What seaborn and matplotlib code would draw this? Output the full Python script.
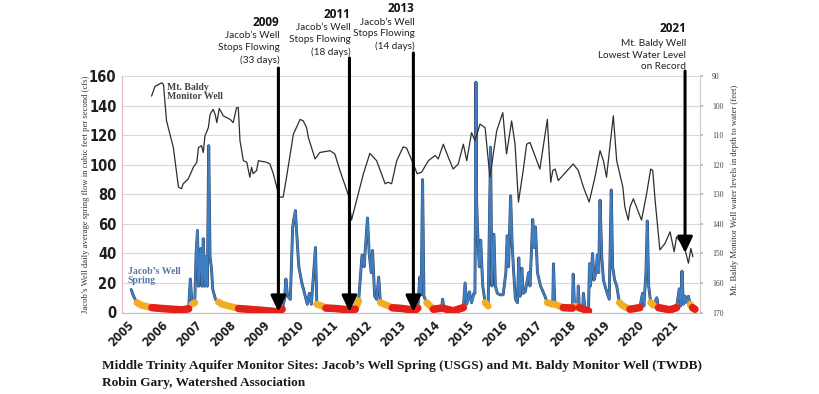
import numpy as np
import pandas as pd
import seaborn as sns
import matplotlib.pyplot as plt
from matplotlib import transforms
from matplotlib import patheffects as pe

# ---------------- data ----------------
baldy_year = [2005.87, 2005.97, 2006.17, 2006.22, 2006.31, 2006.51, 2006.66, 2006.75, 2006.80, 2006.95,
              2007.10, 2007.20, 2007.25, 2007.34, 2007.39, 2007.44, 2007.54, 2007.59, 2007.68, 2007.74,
              2007.79, 2007.86, 2007.98, 2008.18, 2008.27, 2008.37, 2008.42, 2008.47, 2008.57, 2008.67,
              2008.76, 2008.81, 2008.86, 2008.96, 2009.01, 2009.25, 2009.35, 2009.45, 2009.55, 2009.63,
              2009.74, 2009.84, 2010.04, 2010.24, 2010.33, 2010.43, 2010.48, 2010.68, 2010.82, 2011.12,
              2011.26, 2011.41, 2011.66, 2011.75, 2011.90, 2012.10, 2012.29, 2012.49, 2012.74, 2012.83,
              2012.93, 2013.08, 2013.27, 2013.37, 2013.57, 2013.68, 2013.81, 2014.01, 2014.21, 2014.30,
              2014.45, 2014.60, 2014.74, 2014.89, 2015.04, 2015.14, 2015.28, 2015.38, 2015.53, 2015.68,
              2015.82, 2016.02, 2016.20, 2016.31, 2016.46, 2016.56, 2016.66, 2016.80, 2016.90, 2017.00,
              2017.29, 2017.51, 2017.61, 2017.67, 2017.74, 2017.83, 2018.27, 2018.42, 2018.57, 2018.74,
              2018.91, 2019.06, 2019.16, 2019.25, 2019.45, 2019.55, 2019.73, 2019.79, 2019.89, 2019.94,
              2020.04, 2020.28, 2020.43, 2020.55, 2020.61, 2020.68, 2020.82, 2020.97, 2021.12, 2021.24,
              2021.31, 2021.46, 2021.56, 2021.66, 2021.73, 2021.79]
baldy_depth = [96.7, 93.4, 92.2, 92.8, 105.1, 114.1, 127.5, 128.1, 126.4, 124.7,
               120.8, 119.1, 114.1, 113.5, 115.8, 110.2, 107.4, 102.9, 101.2, 102.9,
               105.7, 100.9, 103.4, 104.6, 105.7, 100.6, 100.6, 111.8, 118.6, 119.1,
               124.2, 120.8, 123.0, 121.9, 118.6, 119.1, 119.7, 123.0, 127.5, 130.9,
               130.9, 124.2, 109.6, 104.6, 105.1, 107.4, 110.7, 118.0, 115.8, 115.2,
               116.3, 121.9, 130.3, 138.7, 132.0, 123.0, 116.1, 118.6, 126.4, 125.9,
               126.4, 118.6, 113.9, 114.3, 119.7, 123.0, 122.5, 118.6, 116.8, 118.0,
               113.0, 117.5, 121.4, 119.7, 113.0, 118.6, 109.1, 111.8, 106.2, 107.4,
               124.2, 108.5, 102.3, 116.3, 105.1, 113.0, 132.6, 121.9, 113.0, 112.4,
               121.4, 104.6, 125.9, 121.9, 121.4, 125.3, 119.7, 121.9, 127.5, 132.6,
               124.2, 115.2, 118.6, 124.2, 103.4, 118.6, 127.5, 134.3, 138.7, 134.3,
               131.5, 138.7, 129.8, 121.4, 121.9, 132.0, 148.8, 146.6, 142.7, 149.4,
               144.4, 146.6, 148.8, 153.3, 148.3, 151.1]

spring_year = [2005.27, 2005.34, 2005.44, 2005.59, 2005.88, 2006.18, 2006.47, 2006.76, 2006.96, 2007.01,
               2007.06, 2007.14, 2007.18, 2007.22, 2007.25, 2007.31, 2007.35, 2007.39, 2007.43, 2007.47,
               2007.51, 2007.55, 2007.59, 2007.63, 2007.67, 2007.75, 2007.84, 2007.94, 2008.14, 2008.43,
               2008.92, 2009.31, 2009.61, 2009.71, 2009.78, 2009.82, 2009.87, 2009.95, 2010.02, 2010.06,
               2010.10, 2010.14, 2010.20, 2010.29, 2010.39, 2010.45, 2010.51, 2010.57, 2010.69, 2010.73,
               2010.88, 2011.00, 2011.27, 2011.67, 2011.86, 2011.96, 2012.06, 2012.12, 2012.18, 2012.22,
               2012.27, 2012.33, 2012.37, 2012.43, 2012.49, 2012.55, 2012.60, 2012.84, 2012.95, 2013.24,
               2013.53, 2013.57, 2013.70, 2013.76, 2013.80, 2013.84, 2013.88, 2013.96, 2014.16, 2014.40,
               2014.43, 2014.47, 2014.74, 2015.04, 2015.09, 2015.14, 2015.22, 2015.28, 2015.35, 2015.38,
               2015.40, 2015.41, 2015.43, 2015.47, 2015.51, 2015.55, 2015.61, 2015.68, 2015.77, 2015.84,
               2015.88, 2015.94, 2015.98, 2016.04, 2016.12, 2016.21, 2016.29, 2016.33, 2016.37, 2016.43,
               2016.47, 2016.51, 2016.57, 2016.63, 2016.67, 2016.71, 2016.76, 2016.80, 2016.86, 2016.96,
               2017.00, 2017.08, 2017.12, 2017.16, 2017.22, 2017.31, 2017.44, 2017.51, 2017.67, 2017.69,
               2017.73, 2017.98, 2018.25, 2018.27, 2018.31, 2018.40, 2018.42, 2018.45, 2018.55, 2018.57,
               2018.62, 2018.72, 2018.75, 2018.78, 2018.84, 2018.88, 2018.94, 2018.98, 2019.02, 2019.06,
               2019.11, 2019.16, 2019.23, 2019.33, 2019.39, 2019.43, 2019.49, 2019.55, 2019.63, 2019.74,
               2019.94, 2020.23, 2020.31, 2020.35, 2020.41, 2020.45, 2020.49, 2020.55, 2020.63, 2020.73,
               2020.78, 2021.12, 2021.31, 2021.39, 2021.43, 2021.47, 2021.51, 2021.56, 2021.61, 2021.66,
               2021.71, 2021.78, 2021.85]
spring_cfs = [15.6, 11.0, 6.7, 4.8, 3.3, 2.7, 2.2, 1.8, 2.5, 22.7,
              5.6, 6.7, 40.0, 55.6, 17.8, 43.3, 17.8, 50.0, 17.8, 37.8,
              17.8, 113.0, 37.8, 30.0, 15.6, 8.9, 7.1, 5.6, 4.4, 2.7,
              1.8, 1.1, 0.4, 2.2, 8.9, 22.7, 11.0, 8.9, 57.8, 64.0,
              69.0, 53.0, 31.0, 20.0, 11.0, 5.6, 13.0, 5.6, 44.0, 5.6,
              4.4, 3.0, 2.7, 1.8, 2.2, 7.8, 39.0, 31.0, 51.0, 64.0,
              40.0, 27.0, 42.0, 11.0, 8.9, 24.0, 6.7, 4.4, 3.2, 2.7,
              1.8, 0.5, 3.0, 24.0, 12.0, 90.0, 11.0, 6.7, 2.2, 3.0,
              9.0, 2.7, 1.1, 3.3, 20.0, 5.6, 14.0, 6.7, 13.0, 13.0,
              79.0, 156.0, 75.0, 49.0, 31.0, 49.0, 18.0, 6.7, 4.4, 112.0,
              18.0, 53.0, 18.0, 13.0, 12.0, 12.0, 27.0, 52.0, 31.0, 79.0,
              49.0, 31.0, 9.0, 6.7, 37.0, 11.0, 30.0, 13.0, 14.0, 27.0,
              18.0, 63.0, 44.0, 58.0, 27.0, 18.0, 11.0, 6.7, 5.6, 33.0,
              5.6, 3.3, 3.0, 26.0, 4.4, 3.5, 18.0, 3.3, 2.5, 13.0,
              1.8, 1.1, 33.0, 18.0, 40.0, 22.0, 27.0, 39.0, 27.0, 76.0,
              38.0, 22.0, 16.0, 9.0, 83.0, 31.0, 22.0, 18.0, 6.7, 4.4,
              2.2, 3.3, 13.0, 4.4, 27.0, 62.0, 18.0, 6.7, 4.9, 10.0,
              3.3, 1.8, 3.3, 16.0, 4.4, 28.0, 5.6, 11.0, 6.7, 11.0,
              5.6, 3.3, 2.2]

year_ticks = list(range(2005, 2022))
flow_ticks = [0, 20, 40, 60, 80, 100, 120, 140, 160]
depth_ticks = [90, 100, 110, 120, 130, 140, 150, 160, 170]

events = [  # (x year, bold title, body lines)
    (2009.60, "2009", ["Jacob’s Well", "Stops Flowing", "(33 days)"]),
    (2011.69, "2011", ["Jacob’s Well", "Stops Flowing", "(18 days)"]),
    (2013.57, "2013", ["Jacob’s Well", "Stops Flowing", "(14 days)"]),
    (2021.56, "2021", ["Mt. Baldy Well", "Lowest Water Level", "on Record"]),
]

# ---------------- figure ----------------
sns.set_theme(style="white")
plt.rcParams['font.family'] = ['DejaVu Sans']

W, H = 820, 394
fig = plt.figure(figsize=(W / 100, H / 100), dpi=100)
fig.patch.set_facecolor('white')

ax_l, ax_r, ax_t, ax_b = 122, 700, 76.3, 312.5
ax = fig.add_axes([ax_l / W, 1 - ax_b / H, (ax_r - ax_l) / W, (ax_b - ax_t) / H])
ax.set_facecolor('white')

def fy(px):
    return 1 - px / H

def afrac(px):
    return (ax_b - px) / (ax_b - ax_t)

spring = pd.DataFrame({"year": spring_year, "cfs": spring_cfs})

def run_ids(mask):
    m = np.asarray(mask)
    return np.cumsum(np.r_[True, m[1:] != m[:-1]])

# blue spring line
sns.lineplot(data=spring, x="year", y="cfs", ax=ax, color="#3d7fc4", lw=1.4,
             estimator=None, sort=False, zorder=3,
             path_effects=[pe.Stroke(linewidth=2.1, foreground="#3a4866"), pe.Normal()])

# orange (low) and red (very low) segments
orange_mask = spring["cfs"] <= 8
spring["orun"] = run_ids(orange_mask)
sns.lineplot(data=spring[orange_mask], x="year", y="cfs", units="orun", estimator=None,
             ax=ax, color="#f2ad24", lw=5.0, zorder=4, legend=False)
red_mask = spring["cfs"] <= 3.6
spring["rrun"] = run_ids(red_mask)
sns.lineplot(data=spring[red_mask], x="year", y="cfs", units="rrun", estimator=None,
             ax=ax, color="#e4201b", lw=5.4, zorder=5, legend=False)

ax.set_xlim(2005, 2022)
ax.set_ylim(0, 160)
ax.set_yticks(flow_ticks)
ax.set_xticks(year_ticks)
ax.grid(axis='y', color='#d9d9d9', lw=0.8)
ax.grid(axis='x', visible=False)
ax.set_xlabel("")
ax.set_ylabel("")

narrow = ['DejaVu Sans']
ax.set_yticklabels([str(v) for v in flow_ticks], family=narrow, fontweight='bold',
                   fontstretch='condensed', fontsize=10.5, color='#1e1e1e')
ax.tick_params(axis='y', length=0, pad=4)
ax.set_xticklabels([str(v) for v in year_ticks], family=narrow, fontweight='bold',
                   fontstretch='condensed', fontsize=8.7, color='#1e1e1e', rotation=45,
                   ha='right', va='center', rotation_mode='anchor')
ax.tick_params(axis='x', length=4, color='#aaaaaa', width=0.8, pad=3, direction='out')
offset = transforms.ScaledTranslation(10 / 100, -1 / 100, fig.dpi_scale_trans)
for lab in ax.get_xticklabels():
    lab.set_transform(lab.get_transform() + offset)

for side, col in [('left', '#e2b4b4'), ('bottom', '#bdbdbd'), ('right', '#cccccc')]:
    ax.spines[side].set_color(col)
    ax.spines[side].set_linewidth(0.8)
ax.spines['top'].set_visible(False)

# right axis: Mt. Baldy depth to water
ax2 = ax.twinx()
baldy = pd.DataFrame({"year": baldy_year, "depth": baldy_depth})
sns.lineplot(data=baldy, x="year", y="depth", ax=ax2, color="#2e2e2e", lw=0.9,
             estimator=None, sort=False)
ax2.set_ylim(170, 90)
ax2.set_yticks(depth_ticks)
ax2.set_yticklabels([str(v) for v in depth_ticks], family=['Liberation Serif', 'DejaVu Serif'],
                    fontsize=5.5, color='#444444')
ax2.tick_params(axis='y', length=2.5, color='#bbbbbb', pad=6)
ax2.set_ylabel("")
for s in ax2.spines.values():
    s.set_visible(False)
ax2.grid(False)

# axis titles
serif = ['Liberation Serif', 'DejaVu Serif']
fig.text(86 / W, fy(194), "Jacob’s Well daily average spring flow in cubic feet per second (cfs)",
         rotation=90, ha='center', va='center', family=serif, fontsize=6.2, color='#333333')
fig.text(735 / W, fy(190), "Mt. Baldy Monitor Well water levels in depth to water (feet)",
         rotation=90, ha='center', va='center', family=serif, fontsize=6.2, color='#333333')

# in-plot series labels
blend = transforms.blended_transform_factory(ax.transData, ax.transAxes)
ax.text(2006.32, afrac(92), "Mt. Baldy\nMonitor Well", transform=blend,
        family=serif, fontweight='bold', fontsize=7, color='#444444', va='center', ha='left',
        linespacing=1.0, zorder=6)
ax.text(2005.17, afrac(276), "Jacob’s Well\nSpring", transform=blend,
        family=serif, fontweight='bold', fontsize=7, color='#5677a3', va='center', ha='left',
        linespacing=1.0, zorder=6)

# event annotations
ann_font = ['Lato', 'DejaVu Sans']
title_font = ['Open Sans', 'DejaVu Sans']
title_y = [22, 14, 8.5, 28]
body_y = [[36, 47.5, 60], [27.5, 39, 52], [22.5, 33.5, 46], [43, 55, 66.5]]
tail_y = [68, 58, 53, 71]
tip_frac = [0.003, 0.003, 0.003, afrac(253)]
for i, (xe, title, lines) in enumerate(events):
    ax2.annotate("", xy=(xe, tip_frac[i]), xytext=(xe, afrac(tail_y[i])),
                 xycoords=('data', 'axes fraction'), textcoords=('data', 'axes fraction'),
                 arrowprops=dict(arrowstyle='-|>,head_length=0.8,head_width=0.38', lw=2.2,
                                 color='black', shrinkA=0, shrinkB=0),
                 annotation_clip=False, zorder=10)
    ax2.annotate(title, xy=(xe + 0.03, afrac(title_y[i])), xycoords=('data', 'axes fraction'),
                 ha='right', va='center', family=title_font, fontweight='bold', fontsize=8.5,
                 color='#111111', annotation_clip=False)
    for ln, yy in zip(lines, body_y[i]):
        ax2.annotate(ln, xy=(xe + 0.03, afrac(yy)), xycoords=('data', 'axes fraction'),
                     ha='right', va='center', family=ann_font, fontsize=7.2,
                     color='#222222', annotation_clip=False)

# caption
fig.text(102 / W, fy(366),
         "Middle Trinity Aquifer Monitor Sites: Jacob’s Well Spring (USGS) and Mt. Baldy Monitor Well (TWDB)",
         family=serif, fontweight='bold', fontsize=9.6, color='#1a1a1a', ha='left', va='center')
fig.text(102 / W, fy(383), "Robin Gary, Watershed Association",
         family=serif, fontweight='bold', fontsize=9.6, color='#1a1a1a', ha='left', va='center')

fig.savefig("out.png", dpi=100, facecolor='white')
